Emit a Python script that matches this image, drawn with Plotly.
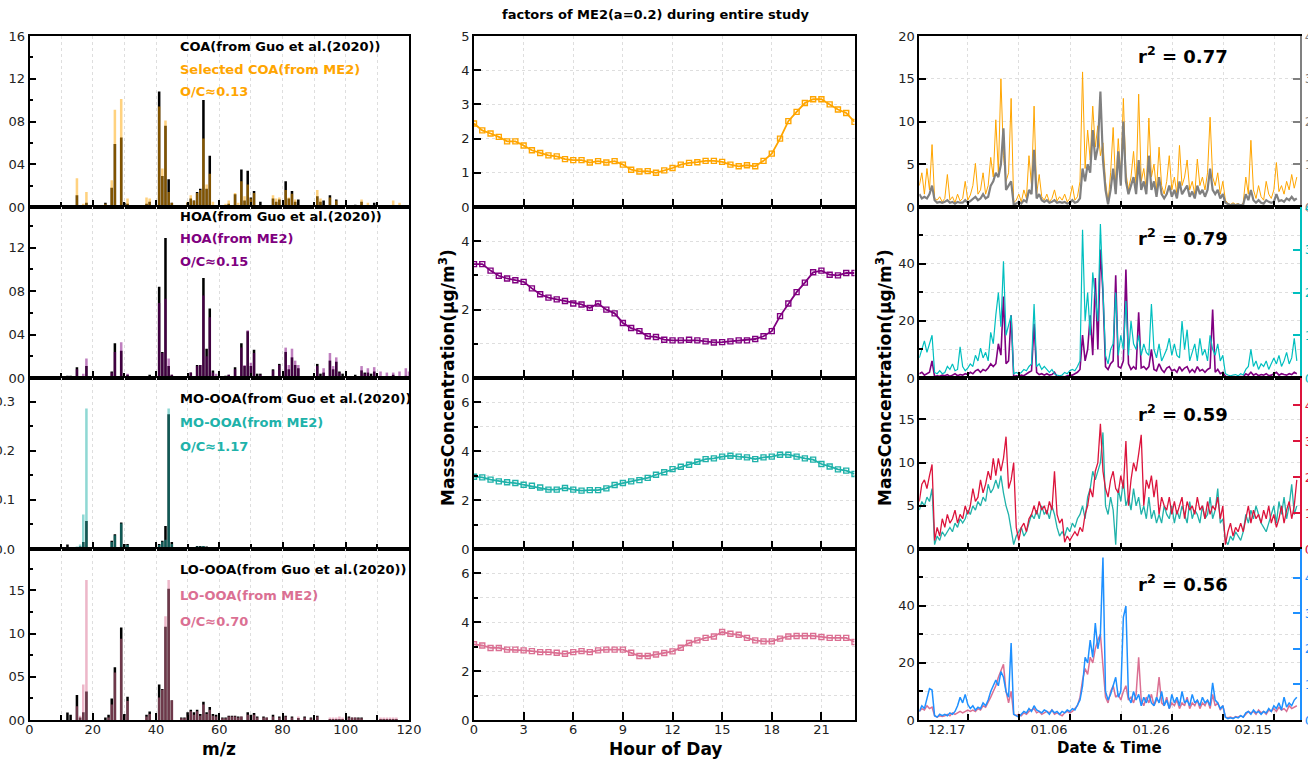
import pandas as pd
import plotly.graph_objects as go

# ============================== DATA ==============================
# ---- left column: mass spectra (fraction of total signal) ----
COA_MZ = [12, 13, 15, 17, 18, 24, 26, 27, 29, 30, 31, 37, 38, 41, 42, 43, 44, 45, 48, 50,
          51, 52, 53, 54, 55, 56, 57, 58, 62, 63, 65, 66, 67, 68, 69, 70, 71, 73, 77, 78,
          79, 81, 82, 83, 84, 85, 91, 92, 93, 95, 97, 103, 105, 107, 109, 115, 117]
COA_GUO = [0.0015, 0.0015, 0.011, 0, 0.004, 0.004, 0.018, 0.059, 0.065, 0.004,
           0.003, 0.003, 0.005, 0.108, 0.029, 0.076, 0.026, 0.004, 0.001, 0.004,
           0.008, 0.006, 0.014, 0.017, 0.100, 0.017, 0.048, 0, 0, 0.003,
           0.012, 0, 0.035, 0.006, 0.034, 0.009, 0.015, 0.005, 0.008, 0.005,
           0.007, 0.024, 0.008, 0.015, 0.005, 0.007, 0.010, 0.005, 0.006, 0.011,
           0.007, 0.002, 0.005, 0, 0.004, 0, 0]
COA_ME2 = [0, 0, 0.027, 0.003, 0.014, 0.003, 0.025, 0.091, 0.101, 0.002,
           0.008, 0.009, 0.008, 0.094, 0.036, 0.081, 0.014, 0.004, 0, 0.005,
           0.011, 0.006, 0.013, 0.016, 0.064, 0.021, 0.031, 0.005, 0.003, 0.006,
           0.013, 0.004, 0.024, 0.010, 0.021, 0.008, 0.013, 0, 0.011, 0.008,
           0.009, 0.016, 0.009, 0.0125, 0.007, 0, 0.016, 0.008, 0, 0.009,
           0.006, 0, 0.007, 0.004, 0, 0.006, 0.004]

HOA_MZ = [12, 13, 15, 17, 18, 26, 27, 29, 31, 38, 41, 42, 43, 44, 45, 51, 53, 54, 55, 56,
          57, 58, 59, 62, 63, 65, 67, 68, 69, 70, 71, 72, 73, 77, 79, 81, 82, 83, 84, 85,
          91, 92, 93, 95, 96, 97, 98, 99, 103, 105, 106, 107, 108, 109, 111, 113, 115, 117, 119, 120]
HOA_GUO = [0.002, 0.002, 0.010, 0, 0.011, 0.006, 0.032, 0.025, 0.003, 0.003,
           0.084, 0.024, 0.129, 0.011, 0.003, 0.005, 0.012, 0.012, 0.092, 0.027,
           0.064, 0.007, 0, 0.002, 0.003, 0.010, 0.032, 0.011, 0.043, 0.011,
           0.026, 0.004, 0.004, 0.008, 0.013, 0.024, 0.008, 0.019, 0.012, 0.009,
           0.013, 0.004, 0.005, 0.016, 0.008, 0.015, 0.006, 0.004, 0.003, 0.007,
           0.005, 0.005, 0.004, 0.006, 0, 0, 0.003, 0, 0.002, 0]
HOA_ME2 = [0, 0, 0.008, 0.004, 0.018, 0.005, 0.024, 0.033, 0.004, 0,
           0.069, 0.023, 0.073, 0.018, 0.003, 0.005, 0.011, 0.012, 0.076, 0.020,
           0.056, 0.005, 0.004, 0, 0.003, 0.008, 0.028, 0.012, 0.044, 0.014,
           0.023, 0, 0.003, 0.007, 0.012, 0.028, 0.012, 0.027, 0.016, 0.012,
           0.011, 0, 0.009, 0.023, 0.011, 0.019, 0.005, 0, 0, 0.011,
           0.004, 0.009, 0, 0.010, 0.006, 0.005, 0.005, 0.006, 0.009, 0.006]

MOOOA_MZ = [12, 13, 15, 16, 17, 18, 24, 25, 26, 27, 28, 29, 30, 31, 37, 38, 41, 42, 43, 44,
            45, 48, 50, 51, 53, 54, 55, 56, 57, 62, 65, 67, 69, 71, 77, 79, 81]
MOOOA_GUO = [0.009, 0.002, 0, 0.005, 0.014, 0.057, 0.003, 0.003, 0.017, 0.030,
             0.002, 0.054, 0.010, 0.010, 0.003, 0.004, 0.010, 0.017, 0.047, 0.274,
             0.014, 0.004, 0.004, 0.004, 0.006, 0.006, 0.006, 0.005, 0.004, 0.002,
             0.001, 0.002, 0.002, 0.001, 0.001, 0.001, 0.001]
MOOOA_ME2 = [0, 0, 0.005, 0.009, 0.070, 0.286, 0.003, 0.003, 0.014, 0.028,
             0, 0.052, 0.008, 0.008, 0.003, 0.004, 0.008, 0.015, 0.019, 0.286,
             0.010, 0.003, 0.004, 0.003, 0.005, 0.005, 0.006, 0.004, 0.003, 0.002,
             0.002, 0.002, 0.002, 0.002, 0.002, 0.002, 0.002]

LOOOA_MZ = [12, 13, 15, 16, 17, 18, 24, 25, 26, 27, 29, 30, 31, 37, 38, 41, 42, 43, 44, 45,
            48, 49, 50, 51, 52, 53, 54, 55, 56, 57, 58, 59, 61, 62, 63, 64, 65, 66, 67, 69,
            70, 71, 72, 74, 75, 77, 79, 81, 83, 85, 87, 89, 91, 95, 96, 97, 98, 99, 101, 102,
            103, 104, 105, 111, 112, 113, 114, 115, 116]
LOOOA_GUO = [0.0086, 0.006, 0.029, 0.003, 0.009, 0.033, 0.003, 0.006, 0.025, 0.061,
             0.107, 0.007, 0.027, 0.006, 0.0097, 0.041, 0.036, 0.108, 0.152, 0.023,
             0.003, 0.003, 0.009, 0.012, 0.009, 0.012, 0.007, 0.021, 0.009, 0.015,
             0.007, 0.006, 0.003, 0.003, 0.005, 0.005, 0.005, 0.004, 0.004, 0.009,
             0.006, 0.008, 0.004, 0.004, 0.003, 0.006, 0.004, 0.005, 0.004, 0.002,
             0.004, 0.003, 0.005, 0.001, 0.001, 0.001, 0.001, 0.001, 0.004, 0.003,
             0.003, 0.003, 0.003, 0.001, 0.001, 0.001, 0.001, 0.001, 0.001]
LOOOA_ME2 = [0, 0, 0.016, 0.005, 0.041, 0.162, 0, 0.003, 0.018, 0.055,
             0.094, 0.005, 0.022, 0.004, 0.007, 0.026, 0.035, 0.120, 0.162, 0.023,
             0.002, 0.002, 0.005, 0.010, 0.006, 0.010, 0.005, 0.018, 0.007, 0.012,
             0.005, 0.004, 0.002, 0.002, 0.004, 0.004, 0.004, 0.003, 0.004, 0.006,
             0.004, 0.006, 0.003, 0.003, 0.003, 0.004, 0.003, 0.004, 0.003, 0.004,
             0.003, 0.002, 0.004, 0.003, 0.003, 0.003, 0.004, 0.003, 0.003, 0.003,
             0.003, 0.002, 0.002, 0.003, 0.003, 0.003, 0.003, 0.003, 0.003]

# ---- middle column: diurnal cycles (half-hourly, hour 0 .. 23) ----
HOURS = [0, 0.5, 1, 1.5, 2, 2.5, 3, 3.5, 4, 4.5, 5, 5.5, 6, 6.5, 7, 7.5, 8, 8.5, 9, 9.5,
         10, 10.5, 11, 11.5, 12, 12.5, 13, 13.5, 14, 14.5, 15, 15.5, 16, 16.5, 17, 17.5,
         18, 18.5, 19, 19.5, 20, 20.5, 21, 21.5, 22, 22.5, 23]
DIU_COA = [2.44, 2.24, 2.15, 2.05, 1.92, 1.92, 1.80, 1.66, 1.58, 1.51, 1.48, 1.40, 1.37, 1.37,
           1.30, 1.34, 1.30, 1.34, 1.24, 1.09, 1.04, 1.05, 1.00, 1.07, 1.14, 1.24, 1.29, 1.31,
           1.35, 1.35, 1.32, 1.24, 1.19, 1.22, 1.19, 1.35, 1.56, 2.00, 2.51, 2.78, 3.04, 3.15,
           3.15, 3.00, 2.85, 2.75, 2.49]
DIU_HOA = [3.33, 3.33, 3.14, 2.99, 2.91, 2.86, 2.81, 2.62, 2.45, 2.35, 2.30, 2.25, 2.18, 2.15,
           2.05, 2.18, 2.00, 1.89, 1.61, 1.46, 1.37, 1.22, 1.20, 1.12, 1.10, 1.10, 1.12, 1.10,
           1.07, 1.04, 1.05, 1.07, 1.10, 1.10, 1.14, 1.22, 1.37, 1.81, 2.18, 2.51, 2.79, 3.09,
           3.14, 3.02, 3.00, 3.07, 3.07]
DIU_MOOOA = [2.96, 2.93, 2.84, 2.77, 2.73, 2.70, 2.63, 2.59, 2.52, 2.43, 2.43, 2.50, 2.43, 2.39,
             2.41, 2.41, 2.48, 2.62, 2.70, 2.77, 2.82, 2.91, 3.04, 3.14, 3.27, 3.37, 3.45, 3.57,
             3.68, 3.71, 3.78, 3.82, 3.78, 3.75, 3.68, 3.75, 3.78, 3.86, 3.86, 3.78, 3.71, 3.66,
             3.48, 3.38, 3.26, 3.21, 3.07]
DIU_LOOOA = [3.10, 3.05, 2.95, 2.95, 2.88, 2.88, 2.85, 2.82, 2.78, 2.78, 2.75, 2.71, 2.78, 2.82,
             2.78, 2.85, 2.88, 2.88, 2.88, 2.75, 2.62, 2.62, 2.68, 2.74, 2.81, 2.96, 3.15, 3.26,
             3.36, 3.42, 3.60, 3.53, 3.49, 3.36, 3.26, 3.22, 3.22, 3.33, 3.42, 3.44, 3.44, 3.44,
             3.40, 3.36, 3.36, 3.36, 3.19]

# ---- right column: time series, 12-hourly from 2018-12-07 11:00 ----
TS_START = "2018-12-07 11:00"
TS_STEP = "12h"
# left-axis series (ME2 factors, ug/m3)
TS_COA_ME2 = [2.5, 4.0, 1.5, 4.5, 2.0, 7.3, 1.0, 0.8, 1.2, 0.6,
              1.0, 3.8, 0.8, 1.2, 0.5, 1.5, 0.7, 1.0, 3.0, 0.8,
              1.4, 2.5, 5.1, 1.5, 2.0, 4.0, 1.5, 2.5, 5.8, 3.5,
              10.2, 4.0, 15.0, 6.0, 3.0, 4.0, 12.7, 0.5, 0.8, 1.5,
              0.6, 2.0, 1.0, 6.0, 2.5, 11.8, 1.5, 3.8, 1.2, 0.8,
              1.5, 0.6, 1.0, 2.0, 0.7, 1.2, 0.8, 1.5, 0.6, 1.0,
              2.5, 0.8, 1.2, 3.0, 15.8, 4.5, 9.0, 5.5, 11.8, 7.0,
              9.5, 6.0, 7.5, 3.0, 0.5, 4.0, 9.3, 2.5, 8.0, 3.5,
              12.7, 4.0, 2.0, 3.5, 6.5, 2.5, 13.2, 3.0, 4.5, 2.0,
              10.4, 3.5, 5.0, 2.0, 7.0, 2.5, 1.5, 3.0, 6.0, 2.0,
              3.5, 1.5, 7.2, 2.5, 3.5, 5.5, 2.0, 3.0, 1.5, 5.6,
              2.5, 3.5, 2.0, 4.0, 10.5, 3.5, 2.5, 4.0, 1.5, 3.0,
              0.8, 0.4, 0.3, 0.5, 0.3, 0.4, 0.2, 0.5, 3.5, 1.5,
              7.8, 2.0, 1.0, 2.5, 1.2, 0.8, 3.0, 1.5, 1.0, 2.0,
              5.2, 1.8, 2.5, 1.5, 3.0, 2.0, 3.8, 2.2, 3.5]
TS_HOA_ME2 = [1.5, 2.0, 1.0, 1.5, 2.0, 6.0, 0.5, 0.8, 0.6, 1.0,
              0.8, 1.2, 0.6, 1.0, 1.5, 0.8, 1.2, 1.0, 1.5, 1.2,
              2.0, 1.5, 2.5, 3.0, 2.0, 3.0, 2.5, 3.5, 5.0, 4.0,
              5.0, 12.0, 8.0, 28.5, 5.0, 6.0, 22.0, 0.5, 0.8, 0.6,
              1.0, 0.8, 1.5, 2.0, 2.5, 19.0, 2.0, 1.2, 1.5, 1.0,
              1.5, 1.0, 1.2, 2.0, 0.5, 0.3, 0.5, 0.4, 0.8, 1.0,
              1.0, 1.5, 2.0, 3.0, 15.0, 6.0, 10.0, 22.0, 8.0, 35.0,
              10.0, 45.0, 30.0, 4.0, 3.0, 5.0, 6.0, 36.0, 4.0, 3.5,
              6.0, 38.0, 5.0, 3.0, 4.0, 3.0, 23.0, 3.5, 4.0, 3.0,
              4.0, 10.0, 3.0, 2.5, 5.0, 3.0, 2.0, 3.5, 4.0, 2.5,
              3.0, 2.0, 4.0, 2.5, 3.5, 4.0, 2.0, 3.0, 2.0, 4.0,
              2.5, 3.0, 2.0, 3.0, 3.5, 24.0, 2.0, 3.0, 1.5, 2.0,
              0.6, 0.4, 0.3, 0.5, 0.4, 0.3, 0.5, 0.4, 1.5, 1.0,
              2.0, 1.0, 1.5, 0.8, 1.2, 1.0, 1.5, 0.8, 1.0, 1.5,
              2.0, 1.0, 1.5, 1.2, 1.0, 1.5, 1.2, 2.0, 1.5]
TS_MOOOA_ME2 = [4.5, 5.5, 5.0, 6.0, 5.5, 7.0, 0.5, 1.5, 1.0, 2.0,
                1.5, 2.0, 2.5, 2.0, 3.0, 2.5, 3.5, 3.0, 3.5, 4.5,
                4.0, 5.0, 4.5, 5.5, 5.0, 6.0, 5.5, 7.5, 6.5, 7.0,
                8.0, 7.0, 8.5, 6.5, 5.0, 4.0, 2.0, 0.5, 1.5, 2.0,
                2.5, 1.5, 2.0, 3.0, 4.0, 3.5, 4.5, 3.5, 5.0, 4.0,
                4.5, 3.5, 5.0, 4.0, 2.5, 1.5, 2.0, 1.5, 2.5, 2.0,
                3.0, 2.5, 3.5, 4.0, 5.0, 3.5, 6.0, 7.0, 9.0, 8.0,
                9.0, 10.0, 13.5, 5.0, 4.0, 6.0, 4.5, 0.5, 7.0, 5.5,
                8.0, 5.0, 6.0, 4.5, 7.0, 5.0, 6.0, 4.0, 5.0, 3.5,
                6.0, 3.5, 4.5, 3.0, 4.0, 3.0, 5.0, 4.0, 3.5, 5.0,
                3.0, 4.5, 3.5, 5.0, 4.0, 3.0, 5.5, 3.5, 4.5, 4.0,
                3.0, 5.0, 3.5, 4.0, 6.0, 3.5, 4.5, 7.0, 3.0, 3.5,
                1.0, 0.5, 1.5, 1.0, 2.0, 1.5, 1.0, 2.0, 4.0, 3.0,
                4.5, 3.5, 5.0, 4.0, 3.0, 2.5, 2.0, 3.0, 4.0, 5.0,
                3.0, 5.5, 4.0, 6.0, 3.5, 5.0, 7.5, 4.0, 5.0]
TS_LOOOA_ME2 = [3.0, 4.0, 3.5, 5.0, 4.0, 4.5, 1.5, 1.0, 1.5, 1.2,
                1.5, 2.0, 1.5, 2.5, 2.0, 2.5, 3.0, 2.5, 3.0, 3.5,
                3.0, 3.5, 3.0, 4.0, 3.5, 5.0, 4.5, 6.0, 8.0, 10.0,
                12.0, 15.0, 17.0, 19.5, 10.0, 6.0, 10.0, 2.0, 1.5, 2.0,
                1.5, 2.5, 2.0, 3.0, 3.5, 4.0, 2.5, 3.0, 2.0, 2.5,
                3.0, 2.5, 3.5, 2.0, 2.5, 2.0, 1.5, 2.5, 3.0, 2.5,
                3.0, 4.0, 5.0, 8.0, 14.0, 18.0, 16.0, 22.0, 20.0, 25.0,
                28.0, 30.0, 20.0, 8.0, 6.0, 10.0, 12.0, 8.0, 9.0, 7.0,
                10.0, 12.0, 7.0, 8.0, 6.0, 9.0, 22.0, 7.0, 5.0, 8.0,
                6.0, 9.0, 5.0, 7.0, 15.0, 6.0, 5.0, 8.0, 4.0, 6.0,
                5.0, 7.0, 4.0, 6.0, 5.0, 8.0, 4.0, 6.0, 5.0, 7.0,
                4.0, 6.0, 5.0, 7.0, 4.0, 9.0, 5.0, 6.0, 3.5, 5.0,
                1.0, 0.8, 1.0, 0.6, 1.2, 1.0, 1.5, 1.0, 2.0, 3.0,
                2.5, 3.0, 2.0, 3.5, 2.5, 3.0, 2.0, 3.5, 3.0, 4.0,
                3.0, 4.5, 3.5, 4.0, 3.0, 5.0, 4.0, 4.5, 5.0]
# right-axis series (Guo et al. factors, right-axis units)
TS_COA_GUO = [0.30, 0.20, 0.24, 0.20, 0.30, 0.50, 0.16, 0.10, 0.12, 0.10,
              0.12, 0.16, 0.10, 0.12, 0.08, 0.12, 0.10, 0.10, 0.16, 0.10,
              0.14, 0.20, 0.24, 0.16, 0.20, 0.30, 0.20, 0.24, 0.50, 0.60,
              0.80, 0.70, 1.00, 1.84, 0.40, 0.50, 0.60, 0.06, 0.08, 0.12,
              0.08, 0.16, 0.12, 0.40, 0.30, 1.34, 0.20, 0.30, 0.16, 0.12,
              0.16, 0.10, 0.12, 0.16, 0.10, 0.12, 0.10, 0.12, 0.08, 0.10,
              0.16, 0.10, 0.12, 0.20, 0.90, 0.60, 1.00, 0.80, 1.80, 1.10,
              1.40, 2.70, 1.10, 0.40, 0.06, 0.40, 0.90, 0.30, 1.30, 0.50,
              2.00, 0.60, 0.30, 0.50, 0.70, 0.30, 1.10, 0.40, 0.60, 0.30,
              1.20, 0.40, 0.60, 0.24, 0.70, 0.30, 0.20, 0.30, 0.50, 0.24,
              0.40, 0.20, 0.60, 0.30, 0.40, 0.50, 0.24, 0.36, 0.20, 0.50,
              0.30, 0.40, 0.24, 0.40, 0.90, 0.40, 0.30, 0.40, 0.20, 0.30,
              0.10, 0.06, 0.04, 0.06, 0.04, 0.06, 0.04, 0.06, 0.30, 0.16,
              0.40, 0.16, 0.10, 0.16, 0.10, 0.08, 0.16, 0.12, 0.10, 0.12,
              0.30, 0.14, 0.16, 0.12, 0.20, 0.16, 0.24, 0.16, 0.20]
TS_HOA_GUO = [0.47, 0.67, 0.87, 0.60, 0.80, 1.00, 0.13, 0.10, 0.17, 0.10,
              0.13, 0.27, 0.20, 0.33, 0.17, 0.20, 0.73, 0.27, 0.17, 0.23,
              0.33, 0.27, 0.53, 0.40, 0.70, 0.47, 0.60, 0.40, 1.07, 0.80,
              1.47, 2.00, 1.20, 2.73, 1.00, 1.27, 1.47, 0.10, 0.13, 0.10,
              0.13, 0.20, 0.17, 0.27, 0.33, 1.73, 0.27, 0.33, 0.20, 0.27,
              0.20, 0.13, 0.20, 0.10, 0.07, 0.05, 0.07, 0.13, 0.10, 0.17,
              0.20, 0.17, 0.27, 0.40, 3.47, 1.33, 2.00, 1.00, 2.47, 1.87,
              1.33, 3.60, 2.07, 0.53, 0.33, 0.67, 0.80, 2.00, 0.53, 1.00,
              0.67, 1.80, 0.53, 1.33, 0.80, 0.67, 1.00, 0.53, 0.80, 0.60,
              0.53, 1.73, 0.67, 0.47, 0.80, 0.40, 0.53, 0.67, 0.93, 0.53,
              0.80, 0.53, 0.47, 1.33, 0.67, 1.13, 0.40, 0.60, 0.80, 0.40,
              0.93, 0.53, 0.67, 0.40, 1.00, 0.67, 0.53, 0.80, 0.40, 0.53,
              0.10, 0.07, 0.05, 0.07, 0.08, 0.05, 0.10, 0.07, 0.20, 0.27,
              0.67, 0.27, 0.40, 0.20, 0.33, 0.27, 0.40, 0.20, 0.33, 0.47,
              0.33, 0.53, 0.27, 0.40, 0.60, 0.33, 0.47, 0.93, 0.40]
TS_MOOOA_GUO = [1.32, 1.80, 1.92, 1.68, 2.04, 2.35, 0.24, 0.60, 0.36, 0.84,
                0.60, 0.96, 0.72, 0.84, 1.08, 0.72, 0.96, 0.84, 1.20, 0.96,
                1.20, 1.68, 1.32, 1.44, 1.92, 1.56, 1.80, 2.16, 1.92, 2.52,
                2.04, 2.52, 2.16, 2.52, 3.12, 1.68, 1.92, 2.40, 0.60, 0.24,
                0.60, 0.72, 0.48, 0.84, 0.96, 1.20, 0.96, 1.32, 1.08, 1.20,
                0.96, 1.32, 1.08, 2.16, 0.96, 0.72, 0.84, 0.19, 0.36, 0.24,
                0.36, 0.48, 0.36, 0.60, 0.48, 0.96, 1.20, 1.68, 1.44, 2.16,
                2.40, 3.48, 2.16, 1.68, 1.44, 1.92, 2.16, 1.68, 1.56, 2.04,
                1.68, 3.00, 1.20, 1.92, 2.40, 2.16, 2.64, 3.17, 1.20, 1.92,
                1.68, 2.04, 1.44, 1.92, 0.96, 1.44, 1.20, 1.08, 1.44, 0.96,
                1.32, 0.96, 1.20, 1.44, 0.84, 1.32, 1.08, 1.20, 0.96, 1.44,
                1.08, 1.20, 0.84, 1.32, 0.96, 1.20, 1.08, 1.44, 0.84, 1.20,
                0.12, 0.48, 0.72, 0.36, 0.60, 0.48, 0.72, 0.48, 0.84, 1.20,
                0.72, 1.08, 0.84, 0.96, 0.72, 1.08, 0.84, 1.20, 0.72, 0.96,
                0.60, 0.84, 1.20, 0.72, 1.08, 1.32, 0.84, 1.20, 1.92]
TS_LOOOA_GUO = [0.24, 0.40, 0.32, 0.64, 0.88, 0.84, 0.12, 0.08, 0.16, 0.12,
                0.16, 0.12, 0.20, 0.16, 0.24, 0.40, 0.64, 0.48, 0.72, 0.44,
                0.32, 0.40, 0.28, 0.36, 0.32, 0.48, 0.40, 0.56, 0.80, 0.96,
                1.12, 0.96, 1.36, 1.20, 0.80, 0.64, 2.16, 0.16, 0.12, 0.08,
                0.16, 0.24, 0.20, 0.32, 0.24, 0.40, 0.28, 0.24, 0.20, 0.28,
                0.24, 0.16, 0.28, 0.20, 0.24, 0.16, 0.24, 0.20, 0.28, 0.24,
                0.32, 0.28, 0.40, 0.56, 0.96, 1.76, 1.60, 2.24, 1.76, 2.72,
                2.00, 2.40, 4.56, 0.80, 0.56, 0.72, 0.96, 1.20, 0.64, 0.80,
                2.88, 3.20, 0.64, 0.48, 0.80, 0.56, 0.72, 0.40, 0.64, 0.48,
                0.72, 0.48, 0.40, 0.64, 0.48, 0.80, 0.40, 0.56, 0.32, 0.72,
                0.48, 0.64, 0.40, 0.80, 0.48, 0.56, 0.40, 0.72, 0.48, 0.56,
                0.40, 0.64, 0.48, 0.56, 0.40, 1.04, 0.56, 0.48, 0.32, 0.40,
                0.08, 0.04, 0.06, 0.04, 0.08, 0.06, 0.12, 0.08, 0.20, 0.24,
                0.16, 0.28, 0.20, 0.24, 0.16, 0.24, 0.20, 0.32, 0.24, 0.40,
                0.32, 0.48, 0.28, 0.64, 0.36, 0.48, 0.40, 0.56, 0.64]

DATE_TICKS = ["2018-12-17", "2019-01-06", "2019-01-26", "2019-02-15"]
DATE_TEXT = ["12.17", "01.06", "01.26", "02.15"]
DATE_MINOR = ["2018-12-27", "2019-01-16", "2019-02-05"]

FACTOR_NAMES = ["COA", "HOA", "MO-OOA", "LO-OOA"]
ME2_LABELS = ["Selected COA(from ME2)", "HOA(from ME2)", "MO-OOA(from ME2)", "LO-OOA(from ME2)"]
OC_LABELS = ["O/C≈0.13", "O/C≈0.15", "O/C≈1.17", "O/C≈0.70"]
R2_LABELS = ["0.77", "0.79", "0.59", "0.56"]

# ============================== STYLE ==============================
FONT = "DejaVu Sans"
TXT = "#222222"
GRID = "#dedede"
W, H = 1308, 762
LW = 1.6
ME2_COLORS = ["#FFA500", "#800080", "#20B2AA", "#DB7093"]
ME2_FILL = ["rgba(255,165,0,0.5)", "rgba(128,0,128,0.5)",
            "rgba(32,178,170,0.5)", "rgba(219,112,147,0.5)"]
GUO_TS_COLORS = ["#808080", "#00BFBF", "#DC143C", "#1E90FF"]
GUO_TS_WIDTH = [2.2, 1.2, 1.3, 1.5]
ME2_TS_WIDTH = [1.0, 1.6, 1.3, 1.5]

COL_X = [(29.5, 409.0), (474.0, 854.5), (919.3, 1300.0)]
ROW_Y = [(36, 207), (207, 378), (378, 549), (549, 720)]


def xdom(c):
    return [COL_X[c][0] / W, COL_X[c][1] / W]


def ydom(r):
    return [1 - ROW_Y[r][1] / H, 1 - ROW_Y[r][0] / H]


def tfont(size=12, color=TXT):
    return dict(family=FONT, size=size, color=color)


def base_axis(**kw):
    d = dict(showline=True, linecolor="black", linewidth=LW, ticks="inside",
             tickcolor="black", tickwidth=1.5, zeroline=False, showgrid=False,
             automargin=False, tickfont=tfont())
    d.update(kw)
    return d


def grid_kw():
    return dict(showgrid=True, gridcolor=GRID, griddash="dot", gridwidth=1)


fig = go.Figure()
layout = {}

spectra = [(COA_MZ, COA_GUO, COA_ME2), (HOA_MZ, HOA_GUO, HOA_ME2),
           (MOOOA_MZ, MOOOA_GUO, MOOOA_ME2), (LOOOA_MZ, LOOOA_GUO, LOOOA_ME2)]
diurnal = [DIU_COA, DIU_HOA, DIU_MOOOA, DIU_LOOOA]
ts_me2 = [TS_COA_ME2, TS_HOA_ME2, TS_MOOOA_ME2, TS_LOOOA_ME2]
ts_guo = [TS_COA_GUO, TS_HOA_GUO, TS_MOOOA_GUO, TS_LOOOA_GUO]
times = pd.date_range(TS_START, periods=len(TS_COA_ME2), freq=TS_STEP)

spec_y = [
    dict(range=[0, 0.16], tickvals=[0, 0.04, 0.08, 0.12, 0.16], ticktext=["00", "04", "08", "12", "16"],
         minor_vals=[0.02, 0.06, 0.10, 0.14], standoff=0),
    dict(range=[0, 0.1575], tickvals=[0, 0.04, 0.08, 0.12], ticktext=["00", "04", "08", "12"],
         minor_vals=[0.02, 0.06, 0.10, 0.14], standoff=0),
    dict(range=[0, 0.348], tickvals=[0, 0.1, 0.2, 0.3], ticktext=["0.0", "0.1", "0.2", "0.3"],
         minor_vals=[0.05, 0.15, 0.25], standoff=10),
    dict(range=[0, 0.198], tickvals=[0, 0.05, 0.10, 0.15], ticktext=["00", "05", "10", "15"],
         minor_vals=[0.025, 0.075, 0.125, 0.175], standoff=0),
]
diu_y = [dict(range=[0, 5], dtick=1, minor=None), dict(range=[0, 5], dtick=2, minor=1),
         dict(range=[0, 7], dtick=2, minor=1), dict(range=[0, 7], dtick=2, minor=1)]
ts_y = [dict(range=[0, 20], dtick=5, minor=None), dict(range=[0, 59.9], dtick=20, minor=10),
        dict(range=[0, 19.8], dtick=5, minor=None), dict(range=[0, 59.9], dtick=20, minor=10)]
ts_y2 = [[0, 4], [0, 4], [0, 4.75], [0, 4.8]]

for r in range(4):
    bottom = (r == 3)
    # ---------------- left column ----------------
    n = r + 1
    mz, guo, me2 = spectra[r]
    fig.add_trace(go.Bar(x=mz, y=guo, width=0.8, marker=dict(color="black", line=dict(width=0)),
                         xaxis=f"x{n}", yaxis=f"y{n}"))
    fig.add_trace(go.Bar(x=mz, y=me2, width=0.8, marker=dict(color=ME2_FILL[r], line=dict(width=0)),
                         xaxis=f"x{n}", yaxis=f"y{n}"))
    layout[f"xaxis{n}"] = base_axis(
        domain=xdom(0), anchor=f"y{n}", range=[0, 120], tickmode="linear", tick0=0, dtick=20,
        ticklen=7, mirror=True, **grid_kw(),
        minor=dict(tickmode="linear", tick0=0, dtick=10, ticks="inside", ticklen=5, tickcolor="black",
                   tickwidth=1.5, **grid_kw()),
        showticklabels=bottom, ticklabelstandoff=-3, tickfont=tfont(13))
    sy = spec_y[r]
    layout[f"yaxis{n}"] = base_axis(
        domain=ydom(r), anchor=f"x{n}", range=sy["range"], tickmode="array",
        tickvals=sy["tickvals"], ticktext=sy["ticktext"], ticklen=7, mirror=True,
        ticklabelstandoff=sy["standoff"],
        minor=dict(tickmode="array", tickvals=sy["minor_vals"], ticks="inside", ticklen=4,
                   tickcolor="black", tickwidth=1.5),
        tickfont=tfont(13))

    # ---------------- middle column ----------------
    n = 4 + r + 1
    fig.add_trace(go.Scatter(x=HOURS, y=diurnal[r], mode="lines+markers",
                             line=dict(color=ME2_COLORS[r], width=1.8),
                             marker=dict(symbol="square-open", size=5, color=ME2_COLORS[r],
                                         line=dict(width=1.4, color=ME2_COLORS[r])),
                             xaxis=f"x{n}", yaxis=f"y{n}"))
    layout[f"xaxis{n}"] = base_axis(
        domain=xdom(1), anchor=f"y{n}", range=[0, 23], tickmode="array",
        tickvals=[0, 3, 6, 9, 12, 15, 18, 21], ticklen=8, mirror=True, **grid_kw(),
        showticklabels=bottom, ticklabelstandoff=-3, tickfont=tfont(13))
    dy = diu_y[r]
    yax = base_axis(domain=ydom(r), anchor=f"x{n}", range=dy["range"], tickmode="linear", tick0=0,
                    dtick=dy["dtick"], ticklen=7, mirror=True, **grid_kw(), tickfont=tfont(13))
    if dy["minor"]:
        yax["minor"] = dict(tickmode="linear", tick0=0, dtick=dy["minor"], ticks="inside", ticklen=4,
                            tickcolor="black", tickwidth=1.5, **grid_kw())
    layout[f"yaxis{n}"] = yax

    # ---------------- right column ----------------
    n = 8 + r + 1
    n2 = 12 + r + 1
    fig.add_trace(go.Scatter(x=times, y=ts_me2[r], mode="lines",
                             line=dict(color=ME2_COLORS[r], width=ME2_TS_WIDTH[r]),
                             xaxis=f"x{n}", yaxis=f"y{n}"))
    fig.add_trace(go.Scatter(x=times, y=ts_guo[r], mode="lines",
                             line=dict(color=GUO_TS_COLORS[r], width=GUO_TS_WIDTH[r]),
                             xaxis=f"x{n}", yaxis=f"y{n2}"))
    layout[f"xaxis{n}"] = base_axis(
        domain=xdom(2), anchor=f"y{n}", type="date",
        range=["2018-12-07 11:00", "2019-02-20 02:00"], tickmode="array",
        tickvals=DATE_TICKS, ticktext=DATE_TEXT, ticklen=6, mirror=True, **grid_kw(),
        minor=dict(tickmode="array", tickvals=DATE_MINOR, ticks="inside", ticklen=6,
                   tickcolor="black", tickwidth=1.5, **grid_kw()),
        showticklabels=bottom, ticklabelshift=-21, ticklabelstandoff=-3, tickfont=tfont(13))
    ty = ts_y[r]
    yax = base_axis(domain=ydom(r), anchor=f"x{n}", range=ty["range"], tickmode="linear", tick0=0,
                    dtick=ty["dtick"], ticklen=7, mirror=False, **grid_kw(), tickfont=tfont(13))
    if ty["minor"]:
        yax["minor"] = dict(tickmode="linear", tick0=0, dtick=ty["minor"], ticks="inside", ticklen=4,
                            tickcolor="black", tickwidth=1.5, **grid_kw())
    layout[f"yaxis{n}"] = yax
    col = GUO_TS_COLORS[r]
    layout[f"yaxis{n2}"] = dict(
        overlaying=f"y{n}", anchor=f"x{n}", side="right", range=ts_y2[r], tickmode="linear",
        tick0=0, dtick=1, showline=True, linecolor=col, linewidth=2.2, ticks="inside",
        tickcolor=col, ticklen=7, tickwidth=1.5, tickfont=tfont(13, col), showgrid=False,
        zeroline=False, automargin=False)

# ---------------- annotations ----------------
ann = []
LX = 178 / W
guo_y = [47, 217, 398, 569]
me2_y = [69, 239, 422, 595]
oc_y = [91, 261, 446, 621]
r2_y = [55, 237, 413, 583]
for r in range(4):
    ann.append(dict(x=LX, y=1 - guo_y[r] / H, xref="paper", yref="paper", xanchor="left",
                    yanchor="middle", showarrow=False,
                    text=f"<b>{FACTOR_NAMES[r]}(from Guo et al.(2020))</b>", font=tfont(13, "black")))
    ann.append(dict(x=LX, y=1 - me2_y[r] / H, xref="paper", yref="paper", xanchor="left",
                    yanchor="middle", showarrow=False, text=f"<b>{ME2_LABELS[r]}</b>",
                    font=tfont(13, ME2_COLORS[r])))
    ann.append(dict(x=LX, y=1 - oc_y[r] / H, xref="paper", yref="paper", xanchor="left",
                    yanchor="middle", showarrow=False, text=f"<b>{OC_LABELS[r]}</b>",
                    font=tfont(13, ME2_COLORS[r])))
    ann.append(dict(x=1183 / W, y=1 - r2_y[r] / H, xref="paper", yref="paper", xanchor="center",
                    yanchor="middle", showarrow=False, text=f"<b>r<sup>2</sup> = {R2_LABELS[r]}</b>",
                    font=tfont(18, "black")))

ann += [
    dict(x=656 / W, y=1 - 15 / H, xref="paper", yref="paper", showarrow=False, xanchor="center",
         yanchor="middle", text="<b>factors of ME2(a=0.2) during entire study</b>", font=tfont(13, "black")),
    dict(x=219 / W, y=1 - 749 / H, xref="paper", yref="paper", showarrow=False, xanchor="center",
         yanchor="middle", text="<b>m/z</b>", font=tfont(17, "black")),
    dict(x=665 / W, y=1 - 749 / H, xref="paper", yref="paper", showarrow=False, xanchor="center",
         yanchor="middle", text="<b>Hour of Day</b>", font=tfont(17, "black")),
    dict(x=1109 / W, y=1 - 748 / H, xref="paper", yref="paper", showarrow=False, xanchor="center",
         yanchor="middle", text="<b>Date & Time</b>", font=tfont(15, "black")),
    dict(x=447 / W, y=1 - 378 / H, xref="paper", yref="paper", showarrow=False, xanchor="center",
         yanchor="middle", textangle=-90, text="<b>MassConcentration(μg/m<sup>3</sup>)</b>",
         font=tfont(17, "black")),
    dict(x=884 / W, y=1 - 378 / H, xref="paper", yref="paper", showarrow=False, xanchor="center",
         yanchor="middle", textangle=-90, text="<b>MassConcentration(μg/m<sup>3</sup>)</b>",
         font=tfont(17, "black")),
]

fig.update_layout(template="none")
fig.update_layout(width=W, height=H, margin=dict(l=0, r=0, t=0, b=0), paper_bgcolor="white",
                  plot_bgcolor="white", showlegend=False, barmode="overlay",
                  font=dict(family=FONT, size=12, color=TXT), annotations=ann, **layout)

fig.write_html("out.html")
